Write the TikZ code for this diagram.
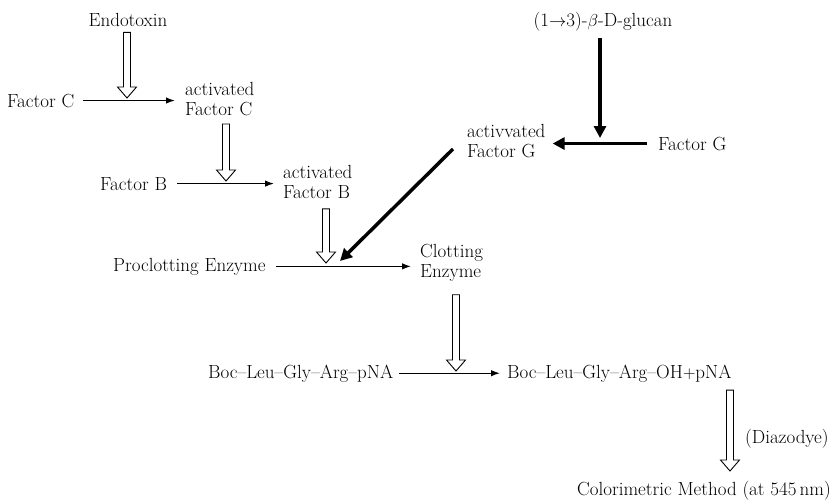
\documentclass[tikz,border=0pt]{standalone}
\usepackage{amsmath, amssymb}
\usepackage{tikz}
\usetikzlibrary{positioning}
\usetikzlibrary{arrows.meta,calc}
\tikzset{thinarrow/.style={line width=1.3pt,-{Latex[length=9pt,width=6.5pt]}}}
\tikzset{thickarrow/.style={line width=3.5pt,-{Triangle[length=12pt,width=12pt]}}}
\tikzset{hollow/.style={line width=0.9pt,fill=white,line join=miter}}
\tikzset{lbl/.style={inner sep=0pt,anchor=base west}}
\tikzset{twoline/.style={inner sep=0pt,anchor=west,align=left}}
\newcommand{\hollowarrow}[2]{\draw[hollow] let \p1=#1, \p2=#2 in
  (\x2-3.5pt,\y1) -- (\x2-3.5pt,\y2+11pt) -- (\x2-9.5pt,\y2+11pt) -- (\x2,\y2)
  -- (\x2+9.5pt,\y2+11pt) -- (\x2+3.5pt,\y2+11pt) -- (\x2+3.5pt,\y1) -- cycle;}

\begin{document}
\begin{tikzpicture}[x=1pt,y=-1pt,font=\fontsize{19}{20}\selectfont]
\useasboundingbox (0,0) rectangle (838,499);
\node[lbl,anchor=base] (endo) at (128,26) {Endotoxin};
\node[lbl] (fc) at (7,107) {Factor C};
\node[twoline] (afc) at (185,99) {activated\\Factor C};
\node[lbl] (fb) at (100,190) {Factor B};
\node[twoline] (afb) at (283,182) {activated\\Factor B};
\node[lbl,anchor=base] (glu) at (603,26) {(1$\rightarrow$3)-$\beta$-D-glucan};
\node[twoline] (afg) at (467,141) {activvated\\Factor G};
\node[lbl] (fg) at (658,150) {Factor G};
\node[lbl] (pro) at (113,271) {Proclotting Enzyme};
\node[twoline] (ce) at (420,263) {Clotting\\Enzyme};
\node[lbl] (boc) at (208,378) {Boc--Leu--Gly--Arg--pNA};
\node[lbl] (prod) at (507,378) {Boc--Leu--Gly--Arg--OH$+$pNA};
\node[lbl] (dia) at (745,443) {(Diazodye)};
\node[lbl,anchor=base] (col) at (704,495) {Colorimetric Method (at 545\,nm)};
\coordinate (j1) at (127,98);
\coordinate (j2) at (600,138);
\coordinate (j3) at (226,181);
\coordinate (j4) at (340,261);
\coordinate (j5) at (326,263);
\coordinate (j6) at (456,371);
\coordinate (j7) at (730,471);
\draw[thinarrow] ([xshift=9pt]fc.east) -- ([xshift=-10pt]fc.east -| afc.west);
\draw[thinarrow] ([xshift=10pt]fb.east) -- ([xshift=-9pt]fb.east -| afb.west);
\draw[thinarrow] ([xshift=10pt]pro.east) -- ([xshift=-9pt]pro.east -| ce.west);
\draw[thinarrow] ([xshift=6pt]boc.east) -- ([xshift=-7pt]boc.east -| prod.west);
\draw[thickarrow] (glu.south -| j2) ++(0,7) -- (j2);
\draw[thickarrow] ([xshift=-11pt]fg.west) -- ([xshift=7pt]fg.west -| afg.east);
\draw[thickarrow] ([xshift=-14pt,yshift=-8pt]afg.west) -- (j4);
\hollowarrow{([yshift=-6pt]endo.south)}{(j1)}
\hollowarrow{([yshift=-8pt]afc.south)}{(j3)}
\hollowarrow{([yshift=-10pt]afb.south)}{(j5)}
\hollowarrow{([yshift=-13pt]ce.south)}{(j6)}
\hollowarrow{([yshift=-8pt]prod.south)}{(j7)}
\end{tikzpicture}
\end{document}
